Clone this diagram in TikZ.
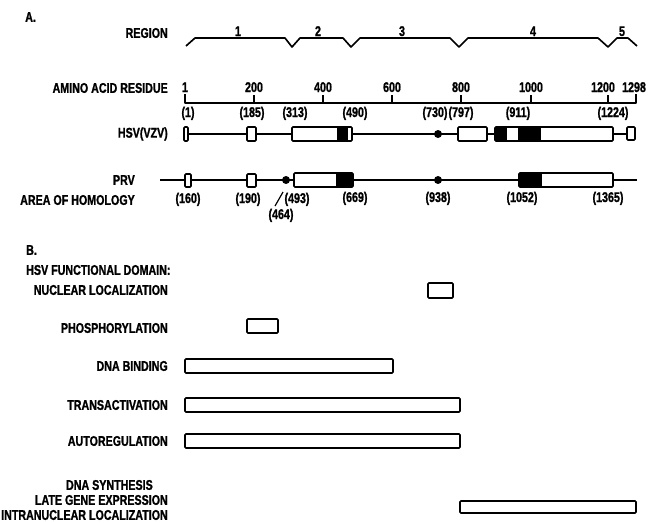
\documentclass[tikz,border=0pt]{standalone}
\usepackage{fontspec}
\setmainfont[FakeStretch=0.76,FakeBold=1.2]{Liberation Sans}
\usepackage{tikz}
\usetikzlibrary{positioning,calc}

\tikzset{
  lab/.style={font=\fontsize{12}{13}\selectfont\bfseries, inner sep=0pt},
  rlab/.style={lab, anchor=east},
  num/.style={lab, anchor=base},
  seg/.style={line width=1.4pt, line join=round},
  dom/.style={line width=1.4pt, rounded corners=0.8pt},
}

\begin{document}
\begin{tikzpicture}[x=0.03cm,y=-0.03cm]
	\useasboundingbox (0,0) rectangle (649,522);

	\node[lab, anchor=west] (partA) at (25,17) {A.};

	\node[rlab] (region) at (168,33) {REGION};
	\draw[seg] (186,46) -- (195,38) -- (285,38) -- (292,47) -- (300,38) -- (343,38) -- (351,47) -- (360,38)
		-- (450,38) -- (459,47) -- (468,38) -- (598,38) -- (608,47) -- (617,38) -- (628,38) -- (637,46);
	\node[num] (reg1) at (238,36) {1};
	\node[num] (reg2) at (318,36) {2};
	\node[num] (reg3) at (402,36) {3};
	\node[num] (reg4) at (533,36) {4};
	\node[num] (reg5) at (622,36) {5};

	\node[rlab] (residue) at (168,88) {AMINO ACID RESIDUE};
	\draw[seg] (185,94) -- (185,103) -- (636,103) -- (636,94);
	\foreach \x in {254,323,392,461,531,608}
		\draw[seg] (\x,95) -- (\x,103);
	\node[num] (t1) at (185,92) {1};
	\node[num] (t200) at (254,92) {200};
	\node[num] (t400) at (323,92) {400};
	\node[num] (t600) at (392,92) {600};
	\node[num] (t800) at (461,92) {800};
	\node[num] (t1000) at (531,92) {1000};
	\node[num] (t1200) at (603,92) {1200};
	\node[num] (t1298) at (634,92) {1298};

	\node[num] (h1) at (188,117) {(1)};
	\node[num] (h185) at (252,117) {(185)};
	\node[num] (h313) at (295,117) {(313)};
	\node[num] (h490) at (355,117) {(490)};
	\node[num] (h730) at (435,117) {(730)};
	\node[num] (h797) at (461,117) {(797)};
	\node[num] (h911) at (518,117) {(911)};
	\node[num] (h1224) at (613,117) {(1224)};

	\node[rlab] (hsv) at (168,134) {HSV(VZV)};
	\draw[seg] (185,134) -- (627,134);
	\fill[white] (184,127) rectangle (188,141) (247,127) rectangle (256,141) (292,127) rectangle (352,141)
		(458,127) rectangle (487,141) (495,127) rectangle (613,141) (627,127) rectangle (635,140);
	\fill (337,127) rectangle (348,141);
	\fill (495,127) rectangle (507,141);
	\fill (518,127) rectangle (541,141);
	\draw[dom] (184,127) rectangle (188,141);
	\draw[dom] (247,127) rectangle (256,141);
	\draw[dom] (292,127) rectangle (352,141);
	\draw[dom] (458,127) rectangle (487,141);
	\draw[dom] (495,127) rectangle (613,141);
	\draw[dom] (627,127) rectangle (635,140);
	\fill (438,134) circle (3.4pt);

	\node[rlab] (prv) at (135,180) {PRV};
	\node[rlab] (homology) at (135,200) {AREA OF HOMOLOGY};
	\draw[seg] (160,180) -- (637,180);
	\fill[white] (185,174) rectangle (191,187) (247,174) rectangle (256,187) (294,173) rectangle (353,187)
		(519,173) rectangle (613,187);
	\fill (336,173) rectangle (353,187);
	\fill (519,173) rectangle (542,187);
	\draw[dom] (185,174) rectangle (191,187);
	\draw[dom] (247,174) rectangle (256,187);
	\draw[dom] (294,173) rectangle (353,187);
	\draw[dom] (519,173) rectangle (613,187);
	\fill (286,180) circle (3.4pt);
	\fill (438,180) circle (3.4pt);

	\node[num] (p160) at (188,203) {(160)};
	\node[num] (p190) at (248,203) {(190)};
	\node[num] (p493) at (297,203) {(493)};
	\node[num] (p669) at (355,202) {(669)};
	\node[num] (p938) at (438,202) {(938)};
	\node[num] (p1052) at (522,202) {(1052)};
	\node[num] (p1365) at (608,202) {(1365)};
	\node[num] (p464) at (281,219) {(464)};
	\draw[line width=1pt] (275,206) -- (283,192);

	\node[lab, anchor=west] (partB) at (26,250) {B.};
	\node[lab, anchor=west] (domain) at (26,270) {HSV FUNCTIONAL DOMAIN:};

	\node[rlab] (nucloc) at (168,290) {NUCLEAR LOCALIZATION};
	\draw[dom] (428,283) rectangle (453,298);
	\node[rlab] (phos) at (168,328) {PHOSPHORYLATION};
	\draw[dom] (247,319) rectangle (278,333);
	\node[rlab] (dnabind) at (168,366) {DNA BINDING};
	\draw[dom] (185,359) rectangle (393,373);
	\node[rlab] (transact) at (168,405) {TRANSACTIVATION};
	\draw[dom] (185,398) rectangle (460,412);
	\node[rlab] (autoreg) at (168,441) {AUTOREGULATION};
	\draw[dom] (185,434) rectangle (460,448);

	\node[rlab] (dnasyn) at (153,485) {DNA SYNTHESIS};
	\node[rlab] (lategene) at (168,500) {LATE GENE EXPRESSION};
	\node[rlab] (intranuc) at (168,515) {INTRANUCLEAR LOCALIZATION};
	\draw[dom] (460,501) rectangle (636,513);
\end{tikzpicture}
\end{document}
